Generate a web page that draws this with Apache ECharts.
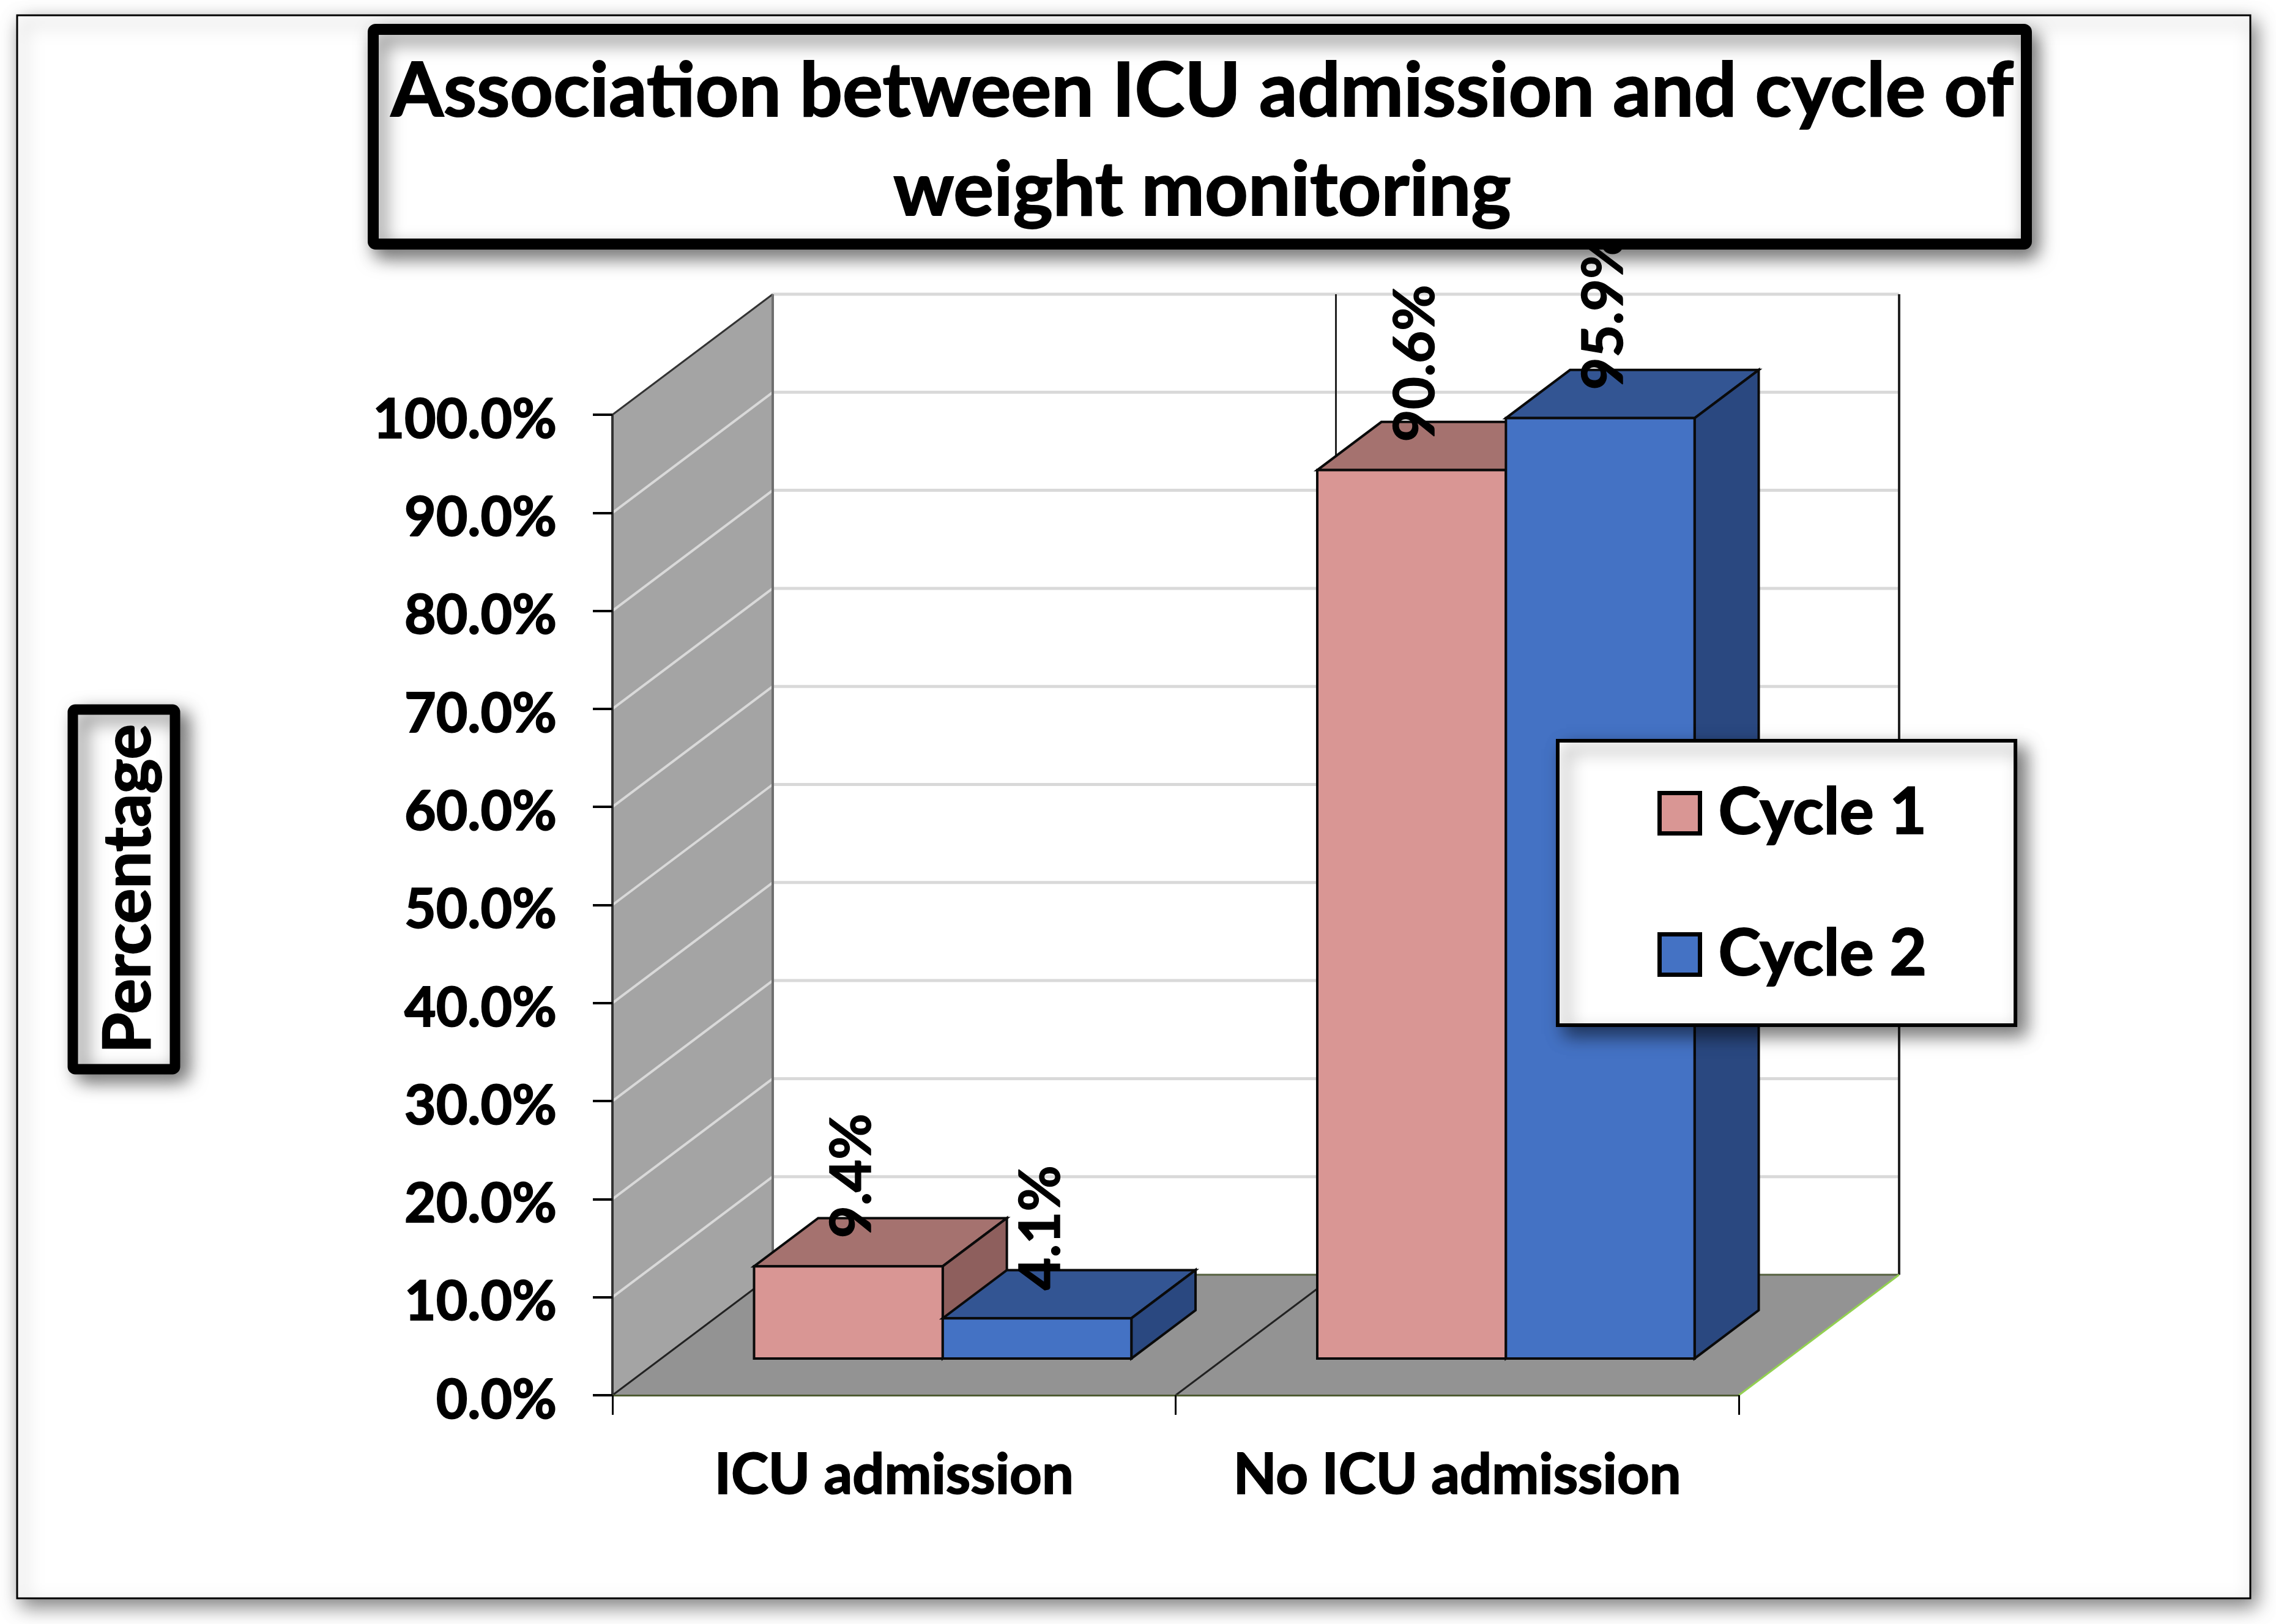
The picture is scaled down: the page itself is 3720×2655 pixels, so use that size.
<!DOCTYPE html>
<html>
<head>
<meta charset="utf-8">
<style>html,body{margin:0;padding:0;background:#fff}#c{width:3720px;height:2655px}</style>
<script src="https://cdn.jsdelivr.net/npm/echarts@6/dist/echarts.min.js"></script>
</head>
<body>
<div id="c"></div>
<script>
const categories = ['ICU admission', 'No ICU admission'];
const cycle1 = [9.4, 90.6];
const cycle2 = [4.1, 95.9];
const seriesNames = ['Cycle 1', 'Cycle 2'];
const gridValues = [0, 10, 20, 30, 40, 50, 60, 70, 80, 90, 100];

const FONT = 'Lato, "Open Sans", sans-serif';
const DX = 262, DY = 197;            // full depth of the 3D box
const FRONT = 0.3, BAR_DEPTH = 0.4;  // bar front plane and bar depth, as a share of DX/DY
const BAR = 0.335;                   // bar width as a share of the category band
const pink = {front: '#d99694', top: '#a5726f', side: '#8e5f5d'};
const blue = {front: '#4472c4', top: '#335593', side: '#2a4880'};
const heavy = {textBorderColor: '#000', textBorderWidth: 2};

function poly(points, fill, stroke, lw) {
  return {type: 'polygon', shape: {points}, style: {fill, stroke: stroke || 'none', lineWidth: lw || 0}};
}
function line(x1, y1, x2, y2, stroke, lw) {
  return {type: 'line', shape: {x1, y1, x2, y2}, style: {stroke, lineWidth: lw}};
}

function renderWalls(params, api) {
  const cs = params.coordSys;
  const x0 = cs.x, x1 = cs.x + cs.width, yB = api.coord([0, 0])[1], yT = api.coord([0, 100])[1];
  const band = api.size([1, 0])[0];
  const ch = [];
  ch.push(poly([[x0 + DX, yT - DY], [x1 + DX, yT - DY], [x1 + DX, yB - DY], [x0 + DX, yB - DY]], '#ffffff'));
  ch.push(poly([[x0, yB], [x0, yT], [x0 + DX, yT - DY], [x0 + DX, yB - DY]], '#a4a4a4'));
  ch.push(poly([[x0, yB], [x0 + DX, yB - DY], [x1 + DX, yB - DY], [x1, yB]], '#939393'));
  gridValues.slice(1).forEach(v => {
    const y = api.coord([0, v])[1];
    if (v < 100) ch.push(line(x0, y, x0 + DX, y - DY, '#d9d9d9', 4));
    ch.push(line(x0 + DX, y - DY, x1 + DX, y - DY, '#d9d9d9', 5));
  });
  ch.push(line(x0 + DX, yT - DY, x0, yT, '#333333', 3));
  ch.push(line(x0 + DX, yT - DY, x0 + DX, yB - DY, '#6e6e6e', 4));
  ch.push(line(x0 + band + DX, yT - DY, x0 + band + DX, yB - DY, '#222222', 3));
  ch.push(line(x1 + DX, yT - DY, x1 + DX, yB - DY, '#222222', 4));
  ch.push(line(x0 + DX, yB - DY, x1 + DX, yB - DY, '#55603f', 3));
  ch.push(line(x0, yB, x0 + DX, yB - DY, '#222222', 3));
  ch.push(line(x0 + band, yB, x0 + band + DX, yB - DY, '#222222', 3));
  ch.push(line(x1, yB, x1 + DX, yB - DY, '#92d050', 3));
  return {type: 'group', children: ch};
}

function barRenderer(slot, colors) {
  return function (params, api) {
    const i = api.value(0), v = api.value(1);
    const c = api.coord([i, 0]), t = api.coord([i, v]);
    const w = api.size([1, 0])[0] * BAR;
    const fx = FRONT * DX, fy = FRONT * DY, dx = BAR_DEPTH * DX, dy = BAR_DEPTH * DY;
    const l = c[0] + slot * w + fx + 1, r = l + w, b = c[1] - fy - 1, top = t[1] - fy - 1;
    const S = '#0a0a0a', LW = 4;
    return {
      type: 'group',
      children: [
        poly([[l, top], [r, top], [r + dx, top - dy], [l + dx, top - dy]], colors.top, S, LW),
        poly([[r, top], [r + dx, top - dy], [r + dx, b - dy], [r, b]], colors.side, S, LW),
        poly([[l, top], [r, top], [r, b], [l, b]], colors.front, S, LW),
        {
          type: 'text', x: l + w / 2 + 7, y: top - 46, rotation: Math.PI / 2,
          style: {
            text: v.toFixed(1) + '%', fill: '#000', align: 'left', verticalAlign: 'middle',
            font: '700 92px ' + FONT, stroke: '#000', lineWidth: 1.5
          }
        }
      ]
    };
  };
}

const chart = echarts.init(document.getElementById('c'), null, {renderer: 'canvas', width: 3720, height: 2655});
chart.setOption({
  animation: false,
  backgroundColor: '#ffffff',
  title: {
    text: 'Association between ICU admission and cycle of\nweight monitoring',
    left: 1960, top: 64, textAlign: 'center', z: 12,
    textStyle: Object.assign({fontFamily: FONT, fontWeight: 700, fontSize: 123.5, lineHeight: 162, color: '#000'}, heavy)
  },
  legend: {
    data: seriesNames, orient: 'vertical', left: 2546, top: 1211, z: 8,
    padding: [65, 144, 62, 163], itemGap: 124, itemWidth: 66, itemHeight: 66,
    backgroundColor: '#fff', borderColor: '#000', borderWidth: 6,
    shadowColor: 'rgba(0,0,0,0.55)', shadowBlur: 28, shadowOffsetX: 14, shadowOffsetY: 14,
    selectedMode: false, icon: 'rect', itemStyle: {borderColor: '#000', borderWidth: 7},
    textStyle: Object.assign({fontFamily: FONT, fontWeight: 700, fontSize: 105, color: '#000', padding: [0, 0, 0, 25]}, heavy)
  },
  grid: {left: 1001, top: 678, width: 1841, height: 1603, show: false},
  xAxis: {
    type: 'category', data: categories, z: 2,
    axisLine: {show: true, lineStyle: {color: '#4e5b31', width: 3}},
    axisTick: {show: true, alignWithLabel: false, interval: 0, length: 32, lineStyle: {color: '#000', width: 3}},
    axisLabel: Object.assign({interval: 0, margin: 85, color: '#000', fontFamily: FONT, fontWeight: 700, fontSize: 92}, heavy),
    splitLine: {show: false}
  },
  yAxis: {
    type: 'value', min: 0, max: 100, interval: 10, z: 2,
    axisLine: {show: true, lineStyle: {color: '#333', width: 4}},
    axisTick: {show: true, length: 32, lineStyle: {color: '#000', width: 4}},
    axisLabel: {margin: 91, formatter: v => '{a|' + v.toFixed(1) + '%}',
      rich: {a: Object.assign({padding: [18, 0, 0, 0], color: '#000', fontFamily: FONT, fontWeight: 700, fontSize: 89}, heavy)}},
    splitLine: {show: false}
  },
  graphic: [
    {type: 'rect', z: -10, shape: {x: 28, y: 25, width: 3650, height: 2588},
      style: {fill: '#fff', stroke: '#000', lineWidth: 3, shadowColor: 'rgba(0,0,0,0.5)', shadowBlur: 30, shadowOffsetX: 8, shadowOffsetY: 12}},
    {type: 'rect', z: 10, shape: {x: 610, y: 48, width: 2702, height: 351, r: 4},
      style: {fill: '#fff', stroke: '#000', lineWidth: 18, shadowColor: 'rgba(0,0,0,0.5)', shadowBlur: 30, shadowOffsetX: 10, shadowOffsetY: 14}},
    {type: 'rect', z: 10, shape: {x: 119, y: 1160, width: 167, height: 588, r: 4},
      style: {fill: '#fff', stroke: '#000', lineWidth: 17, shadowColor: 'rgba(0,0,0,0.5)', shadowBlur: 30, shadowOffsetX: 14, shadowOffsetY: 12}},
    {type: 'text', z: 11, x: 210, y: 1453, rotation: Math.PI / 2,
      style: {text: 'Percentage', fill: '#000', align: 'center', verticalAlign: 'middle', font: '700 108px ' + FONT, stroke: '#000', lineWidth: 2}}
  ],
  series: [
    {type: 'custom', name: 'walls', coordinateSystem: 'cartesian2d', z: 1, silent: true,
      encode: {x: 0, y: 1}, data: [[0, 0]], renderItem: renderWalls, clip: false},
    {type: 'custom', name: seriesNames[0], coordinateSystem: 'cartesian2d', z: 3, clip: false,
      itemStyle: {color: pink.front}, encode: {x: 0, y: 1},
      data: cycle1.map((v, i) => [i, v]), renderItem: barRenderer(-1, pink)},
    {type: 'custom', name: seriesNames[1], coordinateSystem: 'cartesian2d', z: 4, clip: false,
      itemStyle: {color: blue.front}, encode: {x: 0, y: 1},
      data: cycle2.map((v, i) => [i, v]), renderItem: barRenderer(0, blue)}
  ]
});
</script>
</body>
</html>
